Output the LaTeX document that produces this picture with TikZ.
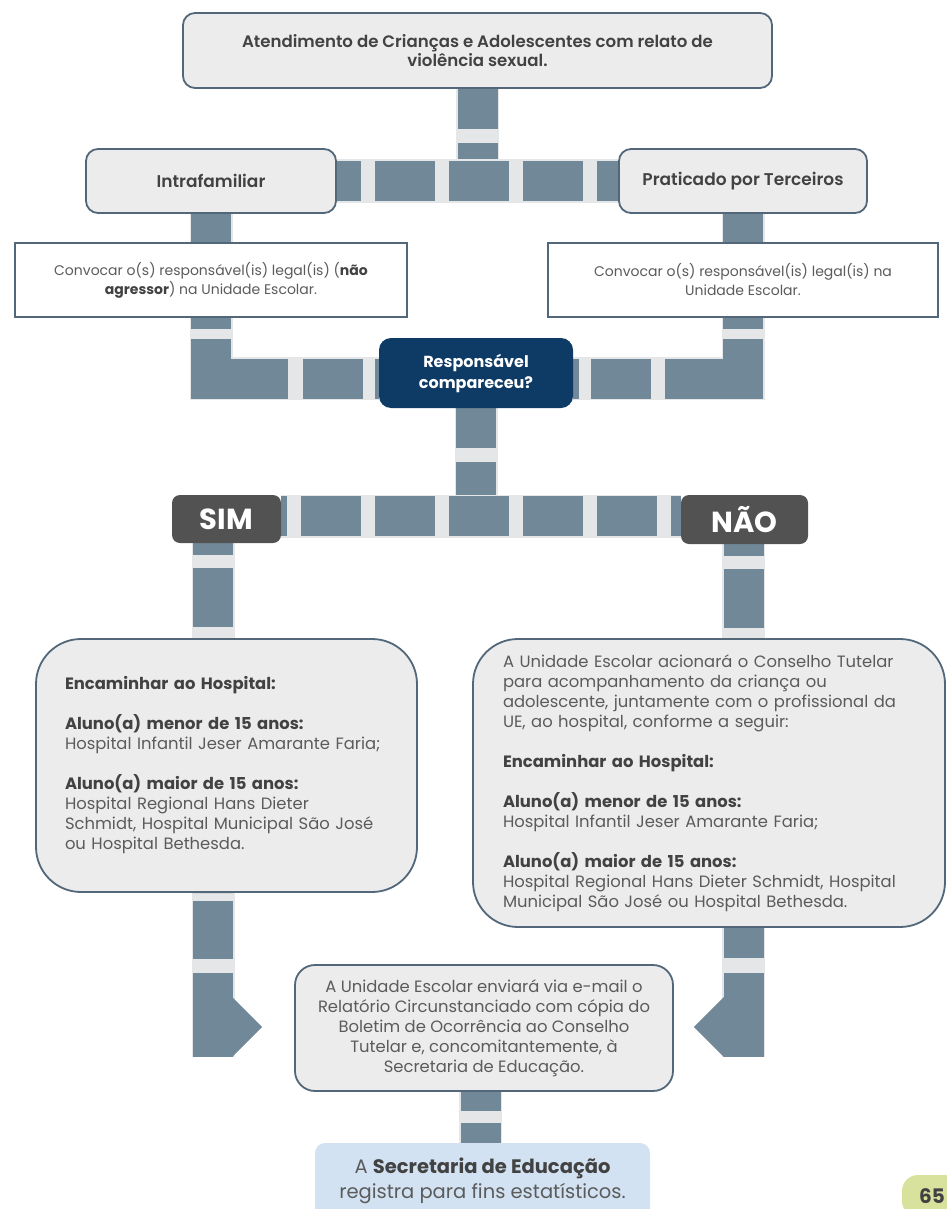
\documentclass[tikz,border=0pt]{standalone}
\usepackage{fontspec}
\setmainfont{Poppins}
\newfontfamily\popsemi{Poppins SemiBold}
\usetikzlibrary{calc}
\definecolor{boxfill}{HTML}{ECECEC}
\definecolor{boxline}{HTML}{52677A}
\definecolor{barc}{HTML}{718898}
\definecolor{bandc}{HTML}{E4E6E8}
\definecolor{navy}{HTML}{0E3A66}
\definecolor{tagc}{HTML}{525252}
\definecolor{txt}{HTML}{5B5B5B}
\definecolor{txtb}{HTML}{424242}
\definecolor{lastfill}{HTML}{D2E2F2}
\definecolor{pagec}{HTML}{D8E29C}
\newcommand{\myb}[1]{{\bfseries\color{txtb}#1}}
\pgfdeclarelayer{background}
\pgfsetlayers{background,main}
\begin{document}
\begin{tikzpicture}[x=1pt,y=-1pt,
  every node/.style={inner sep=0pt, text=txt},
  rbox/.style={draw=boxline, line width=1.8pt, fill=boxfill, rounded corners=12pt, align=center},
  sqbox/.style={draw=boxline, line width=1.8pt, fill=white, align=center},
  bigbox/.style={draw=boxline, line width=1.8pt, fill=boxfill, rounded corners=45pt, align=left},
  anstag/.style={fill=tagc, rounded corners=8pt, text=white, font=\bfseries\fontsize{29}{30}\selectfont},
  bar/.style={draw=barc, line width=40pt, preaction={draw=bandc, line width=43pt, solid}},
]
\useasboundingbox (0,0) rectangle (946,1209);

% nodes
\node[rbox, minimum width=589pt, minimum height=75pt, text=txtb, font=\popsemi\fontsize{16.6}{19}\selectfont] (top) at (477.5,50.5)
  {Atendimento de Crianças e Adolescentes com relato de\\violência sexual.};
\node[rbox, minimum width=250pt, minimum height=64pt, text=txtb, font=\popsemi\fontsize{17}{20}\selectfont] (intra) at (211,181) {Intrafamiliar};
\node[rbox, minimum width=248pt, minimum height=64pt, text=txtb, font=\popsemi\fontsize{17}{20}\selectfont] (prat) at (743,181) {Praticado por Terceiros};

\node[sqbox, minimum width=392pt, minimum height=74pt, font=\fontsize{14}{19}\selectfont] (conv1) at (211,280)
  {Convocar o(s) responsável(is) legal(is) (\myb{não}\\\myb{agressor}) na Unidade Escolar.};
\node[sqbox, minimum width=390pt, minimum height=74pt, font=\fontsize{14}{19}\selectfont] (conv2) at (743,280)
  {Convocar o(s) responsável(is) legal(is) na\\Unidade Escolar.};

\node[fill=navy, rounded corners=12pt, minimum width=194pt, minimum height=70pt, text=white, align=center,
  font=\bfseries\fontsize{16}{21}\selectfont] (resp) at (476,373) {Responsável\\compareceu?};

\node[anstag, minimum width=109pt, minimum height=48pt] (sim) at (226.5,519) {SIM};
\node[anstag, minimum width=127pt, minimum height=49pt] (nao) at (744.5,519.5) {NÃO};

\node[bigbox, minimum width=381pt, minimum height=253pt, text width=323pt, font=\fontsize{16.4}{20}\selectfont] (big1) at (226.5,765.5)
  {\myb{Encaminhar ao Hospital:}\\[20pt]
   \myb{Aluno(a) menor de 15 anos:}\\
   Hospital Infantil Jeser Amarante Faria;\\[20pt]
   \myb{Aluno(a) maior de 15 anos:}\\
   Hospital Regional Hans Dieter\\
   Schmidt, Hospital Municipal São José\\
   ou Hospital Bethesda.};

\node[bigbox, minimum width=472pt, minimum height=288pt, text width=412pt, font=\fontsize{16.4}{20}\selectfont] (big2) at (709,783)
  {A Unidade Escolar acionará o Conselho Tutelar\\
   para acompanhamento da criança ou\\
   adolescente, juntamente com o profissional da\\
   UE, ao hospital, conforme a seguir:\\[20pt]
   \myb{Encaminhar ao Hospital:}\\[20pt]
   \myb{Aluno(a) menor de 15 anos:}\\
   Hospital Infantil Jeser Amarante Faria;\\[20pt]
   \myb{Aluno(a) maior de 15 anos:}\\
   Hospital Regional Hans Dieter Schmidt, Hospital\\
   Municipal São José ou Hospital Bethesda.};

\node[rbox, rounded corners=20pt, minimum width=378pt, minimum height=126pt, font=\fontsize{16.4}{20}\selectfont] (mid) at (484,1028)
  {A Unidade Escolar enviará via e-mail o\\
   Relatório Circunstanciado com cópia do\\
   Boletim de Ocorrência ao Conselho\\
   Tutelar e, concomitantemente, à\\
   Secretaria de Educação.};

\node[fill=lastfill, rounded corners=10pt, minimum width=335pt, minimum height=76pt, align=center,
  font=\fontsize{19.5}{25}\selectfont] (last) at (482.5,1181)
  {A \myb{Secretaria de Educação}\\registra para fins estatísticos.};

\node[fill=pagec, rounded corners=16pt, minimum width=60pt, minimum height=42pt, text=txtb,
  font=\bfseries\fontsize{20}{22}\selectfont] (page) at (932,1196) {65};

% connectors
\coordinate (hb2) at (476,516);
\coordinate (lc) at (213,0);
\coordinate (rc) at (743.5,0);
\coordinate (cc) at (480.5,0);
\coordinate (lb) at (213,1057);
\coordinate (rb) at (743.5,1057);
\coordinate (ltip) at ($(mid.west)+(-32,-1)$);
\coordinate (rtip) at ($(mid.east)+(20,-1)$);

\begin{pgfonlayer}{background}
\draw[bar, dash pattern=on 40pt off 14pt on 300pt] (top.south) -- (top.south |- intra.east);
\draw[bar, dash pattern=on 60pt off 14pt, dash phase=36pt] (intra.east) -- (prat.west);
\draw[bar] (intra.south) -- (conv1.north);
\draw[bar] (prat.south) -- (conv2.north);
\draw[bar, dash pattern=on 11pt off 10pt on 116.5pt off 15pt on 60pt off 12pt on 300pt]
  (conv1.south) |- ($(resp.west)+(0,5.5)$);
\draw[bar, dash pattern=on 11pt off 10pt on 117.5pt off 14pt on 60pt off 12pt on 300pt]
  (conv2.south) |- ($(resp.east)+(0,5.5)$);
\draw[bar, dash pattern=on 40pt off 14pt on 300pt] (resp.south) -- (hb2);
\draw[bar, dash pattern=on 60pt off 14pt, dash phase=54pt] (sim.east |- hb2) -- (nao.west |- hb2);
\draw[bar, dash pattern=on 12pt off 13pt on 59pt off 30pt] (sim.south -| lc) -- (big1.north -| lc);
\draw[bar, dash pattern=on 12pt off 13pt on 59pt off 30pt] (nao.south -| rc) -- (big2.north -| rc);
\draw[bar, dash pattern=on 58pt off 14pt on 300pt off 8pt, dash phase=372pt] (big1.south -| lc) -- (lb);
\fill[barc] (ltip) -- ++(-30,-30) -- ++(0,60) -- cycle;
\draw[bar, dash pattern=on 30pt off 15pt on 300pt] (big2.south -| rc) -- (rb);
\fill[barc] (rtip) -- ++(30,-30) -- ++(0,60) -- cycle;
\draw[bar, dash pattern=on 19pt off 12pt on 100pt] (mid.south -| cc) -- (last.north -| cc);
\end{pgfonlayer}
\end{tikzpicture}
\end{document}
